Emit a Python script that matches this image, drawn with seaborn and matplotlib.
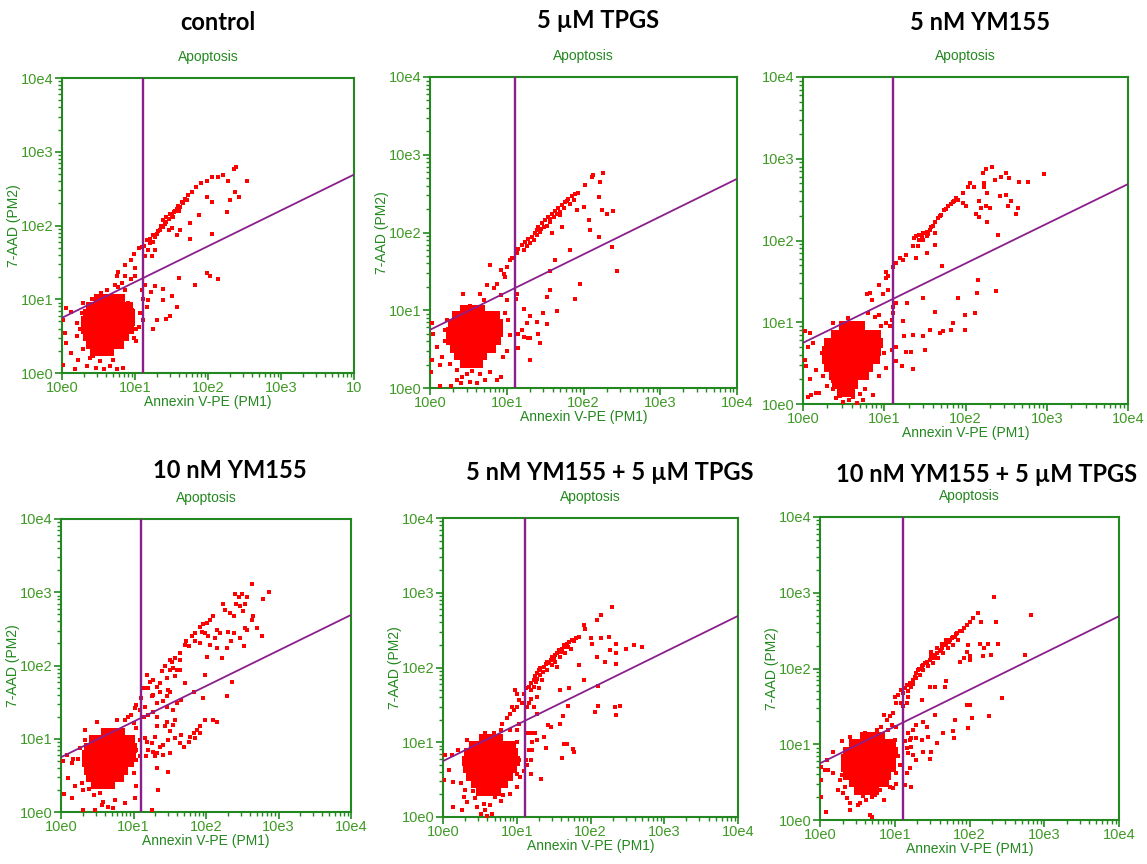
import numpy as np
import pandas as pd
import matplotlib
matplotlib.use('Agg')
from matplotlib import pyplot as plt
from matplotlib.ticker import LogLocator, NullFormatter
import seaborn as sns

# ---- data (log10 units) ----
titles = ['control', '5 \u00b5M TPGS', '5 nM YM155',
          '10 nM YM155', '5 nM YM155 + 5 \u00b5M TPGS', '10 nM YM155 + 5 \u00b5M TPGS']
decade_ticks = [1, 10, 100, 1000, 10000]
decade_labels = ['10e0', '10e1', '10e2', '10e3', '10e4']
decade_labels_control = ['10e0', '10e1', '10e2', '10e3', '10']   # last label is cut off in the source
gate_x = 12.8                      # vertical gate (Annexin)
quad_line_x = [1, 10000]           # diagonal gate end points
quad_line_y = [5.6, 490]

# dense population: {log y: [log x, ...]}
control_core = {1.00: [0.50, 0.60, 0.70, 0.80],
                0.90: [0.40, 0.50, 0.60, 0.70, 0.80, 0.90],
                0.80: [0.35, 0.45, 0.55, 0.65, 0.75, 0.85, 0.93],
                0.70: [0.33, 0.43, 0.53, 0.63, 0.73, 0.83, 0.93],
                0.60: [0.33, 0.43, 0.53, 0.63, 0.73, 0.83, 0.92],
                0.50: [0.35, 0.45, 0.55, 0.65, 0.75, 0.85],
                0.40: [0.40, 0.50, 0.60, 0.70, 0.78],
                0.30: [0.45, 0.55, 0.65]}
tpgs_core = {1.00: [0.45, 0.55, 0.65],
             0.92: [0.35, 0.45, 0.55, 0.65, 0.75, 0.85],
             0.82: [0.30, 0.40, 0.50, 0.60, 0.70, 0.80, 0.88],
             0.72: [0.28, 0.38, 0.48, 0.58, 0.68, 0.78, 0.88],
             0.62: [0.28, 0.38, 0.48, 0.58, 0.68, 0.78, 0.86],
             0.52: [0.32, 0.42, 0.52, 0.62, 0.72, 0.80],
             0.42: [0.38, 0.48, 0.58, 0.68],
             0.32: [0.45, 0.55, 0.62]}
ym5_core = {0.95: [0.50, 0.60, 0.70],
            0.85: [0.40, 0.50, 0.60, 0.70, 0.80, 0.90],
            0.75: [0.32, 0.42, 0.52, 0.62, 0.72, 0.82, 0.92],
            0.65: [0.30, 0.40, 0.50, 0.60, 0.70, 0.80, 0.90],
            0.55: [0.30, 0.40, 0.50, 0.60, 0.70, 0.80, 0.88],
            0.45: [0.32, 0.42, 0.52, 0.62, 0.72, 0.80],
            0.35: [0.38, 0.48, 0.58, 0.68, 0.75],
            0.25: [0.42, 0.52, 0.62],
            0.15: [0.48, 0.58]}
ym10_core = {1.08: [0.62, 0.72, 0.82],
             0.98: [0.45, 0.55, 0.65, 0.75, 0.85, 0.95],
             0.88: [0.38, 0.48, 0.58, 0.68, 0.78, 0.88, 0.98],
             0.78: [0.36, 0.46, 0.56, 0.66, 0.76, 0.86, 0.96],
             0.68: [0.36, 0.46, 0.56, 0.66, 0.76, 0.86, 0.94],
             0.58: [0.38, 0.48, 0.58, 0.68, 0.78, 0.86],
             0.48: [0.42, 0.52, 0.62, 0.72, 0.80],
             0.38: [0.48, 0.58, 0.68]}
ym5_tpgs_core = {1.05: [0.55, 0.65, 0.75],
                 0.95: [0.42, 0.52, 0.62, 0.72, 0.82, 0.92],
                 0.85: [0.35, 0.45, 0.55, 0.65, 0.75, 0.85, 0.95],
                 0.75: [0.32, 0.42, 0.52, 0.62, 0.72, 0.82, 0.92, 0.98],
                 0.65: [0.34, 0.44, 0.54, 0.64, 0.74, 0.84, 0.94],
                 0.55: [0.38, 0.48, 0.58, 0.68, 0.78, 0.88],
                 0.45: [0.45, 0.55, 0.65, 0.75, 0.82],
                 0.35: [0.52, 0.62, 0.72]}
ym10_tpgs_core = {1.10: [0.60, 0.70, 0.80],
                  1.00: [0.45, 0.55, 0.65, 0.75, 0.85, 0.95],
                  0.90: [0.38, 0.48, 0.58, 0.68, 0.78, 0.88, 0.98],
                  0.80: [0.35, 0.45, 0.55, 0.65, 0.75, 0.85, 0.95],
                  0.70: [0.35, 0.45, 0.55, 0.65, 0.75, 0.85, 0.95],
                  0.60: [0.38, 0.48, 0.58, 0.68, 0.78, 0.88],
                  0.50: [0.45, 0.55, 0.65, 0.75, 0.85],
                  0.40: [0.52, 0.62, 0.72]}

# single events: (log x, log y)
control_events = [
    (1.05, 1.69), (1.09, 1.71), (0.95, 1.53), (0.86, 1.46), (0.75, 1.31), (0.77, 1.37), (0.86, 1.31), (0.73, 1.19),
    (1.16, 1.80), (1.21, 1.82), (1.25, 1.87), (1.30, 1.89), (1.34, 1.94), (1.39, 1.98), (1.43, 2.05), (1.46, 2.09),
    (1.50, 2.14), (1.53, 2.18), (1.57, 2.23), (1.59, 2.27), (1.64, 2.32), (1.68, 2.36), (1.73, 2.41), (1.78, 2.45),
    (1.84, 2.52), (1.91, 2.57), (1.98, 2.61), (2.05, 2.66), (2.14, 2.66), (2.21, 2.68), (2.28, 2.61), (2.35, 2.77),
    (2.39, 2.79), (2.53, 2.61), (2.37, 2.45), (2.30, 2.34), (2.42, 2.39), (2.26, 2.18), (2.05, 2.32), (1.98, 2.39),
    (2.05, 1.88), (1.87, 2.14), (1.75, 2.03), (1.75, 1.82), (1.62, 1.94), (1.57, 1.87), (1.50, 1.96), (1.46, 1.94),
    (1.25, 1.78), (1.18, 1.67), (1.27, 1.67), (1.23, 1.58), (1.14, 1.58), (0.98, 1.62),
    (1.39, 2.07), (1.43, 2.11), (1.48, 2.16), (1.55, 2.20), (1.62, 2.25), (1.66, 2.30), (1.71, 2.34), (1.36, 2.00),
    (1.41, 2.02), (1.52, 2.12), (1.60, 2.20), (1.32, 1.92), (1.28, 1.85), (1.20, 1.76), (1.12, 1.72),
    (1.98, 1.35), (2.03, 1.31), (2.14, 1.27), (1.82, 1.19), (1.60, 1.29),
    (1.27, 1.18), (1.39, 1.14), (1.51, 1.05), (1.39, 0.99), (1.58, 0.90), (1.48, 0.77), (1.42, 0.73), (1.30, 0.72),
    (1.25, 0.59), (1.16, 0.90), (1.18, 0.99), (1.22, 1.10), (1.14, 1.19), (1.09, 1.13), (1.11, 1.01), (1.07, 0.81),
    (1.05, 0.63), (1.02, 0.43), (1.11, 0.72),
    (0.95, 1.28), (1.00, 1.31), (0.82, 1.22), (0.77, 1.17), (0.86, 1.13), (0.61, 1.13), (0.54, 1.08), (1.00, 1.42),
    (0.02, 0.72), (0.06, 0.88), (0.13, 0.83), (0.04, 0.54), (0.06, 0.41), (0.13, 0.27), (0.02, 0.11), (0.20, 0.50),
    (0.22, 0.18), (0.34, 0.09), (0.18, 0.05), (0.47, 0.07), (0.57, 0.05), (0.66, 0.09), (0.75, 0.05), (0.84, 0.07),
    (0.52, 0.16), (0.43, 0.23), (0.29, 0.32), (0.27, 0.81), (0.29, 0.95), (0.41, 1.01), (0.20, 0.68), (1.02, 0.59),
    (0.98, 0.47), (0.25, 0.60), (0.96, 0.85), (0.90, 0.95), (0.38, 0.20), (0.70, 0.18)]

tpgs_events = [
    (0.96, 1.47), (1.00, 1.56), (1.07, 1.67), (1.13, 1.73), (1.15, 1.79), (1.20, 1.84), (1.24, 1.88), (1.28, 1.91),
    (1.33, 1.94), (1.37, 1.99), (1.39, 2.03), (1.41, 2.07), (1.46, 2.12), (1.50, 2.16), (1.54, 2.20), (1.59, 2.24),
    (1.63, 2.28), (1.67, 2.31), (1.72, 2.35), (1.76, 2.39), (1.80, 2.43), (1.85, 2.47), (1.89, 2.50), (1.93, 2.51),
    (2.02, 2.61), (2.11, 2.72), (2.22, 2.65), (2.26, 2.77), (2.13, 2.74), (1.35, 1.90), (1.39, 1.97), (1.43, 2.01),
    (1.48, 2.07), (1.52, 2.09), (1.30, 1.86), (1.26, 1.82), (1.22, 1.77), (1.57, 2.14), (1.65, 2.24), (1.74, 2.31),
    (1.83, 2.37), (1.87, 2.42), (1.61, 2.20), (1.70, 2.22), (1.44, 2.04), (1.56, 2.17), (1.69, 2.27), (1.78, 2.41),
    (1.91, 2.29), (2.00, 2.33), (2.07, 2.16), (2.09, 2.03), (2.20, 2.46), (2.24, 2.29), (2.30, 2.24), (2.39, 2.28),
    (2.20, 1.94), (2.37, 1.81), (2.43, 1.51), (1.83, 1.77), (1.72, 2.07), (1.59, 1.99), (1.63, 1.64), (1.57, 1.51),
    (1.95, 1.34), (1.89, 1.14), (1.57, 1.26), (1.52, 1.17), (1.47, 0.96), (1.66, 0.99), (1.52, 0.82), (1.39, 0.85),
    (1.30, 0.92), (1.23, 1.01), (1.26, 0.84), (1.20, 0.74), (1.15, 0.70), (1.22, 0.66), (1.28, 0.64), (1.41, 0.70),
    (1.43, 0.58), (1.30, 0.64), (1.15, 0.51), (1.30, 0.36), (1.13, 1.21), (1.12, 1.15),
    (0.78, 1.58), (0.93, 1.52), (0.98, 1.43), (0.87, 1.34), (0.74, 1.32), (0.83, 1.28), (0.93, 1.19), (1.00, 1.13),
    (1.04, 1.64), (0.43, 1.21), (0.65, 1.21), (0.52, 1.06), (0.70, 1.13),
    (0.02, 0.83), (0.04, 0.70), (0.09, 0.53), (0.02, 0.36), (0.01, 0.21), (0.13, 0.03), (0.15, 0.40), (0.20, 0.61),
    (0.22, 0.87), (0.20, 0.74), (0.28, 0.03), (0.35, 0.10), (0.41, 0.06), (0.52, 0.08), (0.61, 0.06), (0.72, 0.10),
    (0.87, 0.10), (0.93, 0.14), (0.35, 0.23), (0.26, 0.31), (0.48, 0.18), (0.65, 0.18), (1.00, 0.48), (1.04, 0.68),
    (1.02, 0.87), (0.98, 0.96), (0.13, 0.29), (0.55, 0.22), (0.42, 0.14), (0.78, 0.20), (0.95, 0.40)]

ym5_events = [
    (1.02, 1.62), (1.05, 1.56), (1.11, 1.68), (1.15, 1.72), (1.19, 1.78), (1.23, 1.76), (1.27, 1.82), (1.35, 1.93),
    (1.37, 2.03), (1.39, 2.05), (1.43, 2.07), (1.48, 2.09), (1.52, 2.11), (1.56, 2.13), (1.58, 2.17), (1.62, 2.23),
    (1.66, 2.27), (1.70, 2.31), (1.74, 2.37), (1.78, 2.42), (1.82, 2.45), (1.86, 2.48), (1.91, 2.50), (1.97, 2.58),
    (2.03, 2.66), (2.05, 2.70), (2.11, 2.66), (2.21, 2.82), (2.25, 2.88), (2.32, 2.90), (2.36, 2.74), (2.44, 2.78),
    (2.50, 2.82), (2.54, 2.76), (2.66, 2.72), (2.77, 2.72), (2.96, 2.81), (2.23, 2.70), (2.23, 2.66), (2.27, 2.58),
    (2.17, 2.48), (2.19, 2.40), (2.17, 2.29), (2.13, 2.33), (2.25, 2.42), (2.30, 2.40), (2.27, 2.23), (2.43, 2.54),
    (2.50, 2.56), (2.56, 2.48), (2.52, 2.42), (2.64, 2.40), (2.62, 2.33), (2.40, 2.07), (2.01, 2.42), (1.97, 2.46),
    (1.62, 2.09), (1.52, 2.05), (1.43, 2.01), (1.48, 2.01), (1.41, 1.93), (1.62, 1.95), (1.53, 1.85), (1.39, 1.78),
    (1.71, 1.69), (1.60, 2.18), (1.68, 2.30), (1.76, 2.39), (1.84, 2.47), (1.88, 2.52), (1.54, 2.08), (1.46, 2.05),
    (2.15, 1.52), (2.14, 1.36), (2.38, 1.38), (2.12, 1.11), (1.99, 1.09), (1.91, 1.30), (1.99, 0.91), (1.84, 0.99),
    (1.82, 0.91), (1.72, 0.89), (1.68, 0.87), (1.62, 1.13), (1.56, 0.91), (1.48, 0.83), (1.50, 0.66), (1.48, 1.30),
    (1.35, 0.85), (1.33, 0.64), (1.27, 0.64), (1.35, 0.43), (1.22, 0.46), (1.24, 0.83), (1.28, 1.23), (1.15, 0.70),
    (1.14, 0.52), (1.23, 1.01), (1.15, 1.23), (1.11, 1.19), (1.11, 1.11), (1.09, 1.03), (1.07, 0.95), (1.09, 0.66),
    (1.02, 1.54), (0.93, 1.46), (0.82, 1.36), (0.79, 1.34), (0.85, 1.27), (0.98, 1.34), (1.05, 1.40), (0.80, 1.11),
    (0.88, 1.07), (0.94, 1.09), (0.55, 1.05), (0.37, 0.99), (1.02, 0.99), (0.96, 0.95),
    (0.02, 0.54), (0.04, 0.46), (0.06, 0.70), (0.12, 0.75), (0.08, 0.87), (0.03, 0.89), (0.16, 0.42), (0.08, 0.30),
    (0.06, 0.09), (0.10, 0.11), (0.16, 0.13), (0.20, 0.13), (0.23, 0.62), (0.25, 0.34), (0.29, 0.22), (0.37, 0.18),
    (0.41, 0.07), (0.49, 0.03), (0.57, 0.05), (0.66, 0.01), (0.74, 0.05), (0.86, 0.11), (0.76, 0.18), (1.02, 0.44),
    (0.94, 0.34), (1.00, 0.62), (0.37, 0.28), (0.45, 0.10), (0.62, 0.08), (0.70, 0.12), (0.27, 0.52)]

ym10_events = [
    (2.64, 3.11), (2.87, 3.01), (2.78, 2.91), (2.40, 2.98), (2.45, 2.93), (2.49, 2.97), (2.56, 2.94), (2.42, 2.84),
    (2.47, 2.81), (2.54, 2.84), (2.24, 2.84), (2.26, 2.76), (2.33, 2.72), (2.38, 2.67), (2.51, 2.74), (2.65, 2.67),
    (2.63, 2.62), (2.10, 2.67), (2.06, 2.62), (2.01, 2.58), (1.96, 2.56), (1.92, 2.53), (1.94, 2.46), (1.85, 2.44),
    (1.80, 2.40), (1.73, 2.33), (1.71, 2.28), (1.77, 2.26), (1.85, 2.33), (2.03, 2.40), (2.15, 2.49), (2.19, 2.44),
    (2.31, 2.46), (2.38, 2.44), (2.47, 2.37), (2.54, 2.51), (2.56, 2.49), (2.70, 2.51), (2.77, 2.40), (2.52, 2.27),
    (2.35, 2.33), (2.22, 2.10), (2.29, 2.24), (2.15, 2.24), (2.06, 2.28), (2.01, 2.12), (1.99, 1.87), (1.92, 2.31),
    (1.99, 2.44), (2.12, 2.37), (2.36, 1.77), (2.29, 1.58), (1.96, 1.55), (1.83, 1.64),
    (2.10, 1.26), (2.15, 1.23), (1.99, 1.26), (1.92, 1.17), (1.87, 1.12), (1.83, 1.08), (1.78, 1.03), (1.92, 1.08),
    (1.85, 1.01), (1.76, 0.96), (1.69, 0.89), (1.66, 1.05), (1.64, 0.94), (1.57, 1.01), (1.55, 1.19), (1.57, 1.26),
    (1.46, 1.23), (1.43, 1.17), (1.50, 1.10), (1.48, 0.98), (1.41, 0.92), (1.50, 0.80), (1.41, 0.78), (1.37, 0.89),
    (1.32, 0.80), (1.27, 0.82), (1.32, 0.60), (1.30, 0.76), (1.25, 0.94), (1.30, 1.03), (1.18, 0.96), (1.20, 0.85),
    (1.17, 0.76), (1.47, 0.54), (1.34, 0.30), (1.25, 0.03), (1.16, 1.01), (1.32, 1.17),
    (1.18, 1.87), (1.23, 1.78), (1.27, 1.80), (1.20, 1.69), (1.27, 1.60), (1.32, 1.71), (1.37, 1.76), (1.39, 1.92),
    (1.46, 1.83), (1.48, 1.67), (1.50, 1.94), (1.53, 2.05), (1.55, 1.96), (1.57, 1.85), (1.60, 1.94), (1.64, 2.08),
    (1.64, 1.94), (1.71, 1.76), (1.66, 1.53), (1.60, 1.49), (1.55, 1.39), (1.46, 1.44), (1.41, 1.51), (1.46, 1.58),
    (1.50, 1.64), (1.37, 1.64), (1.32, 1.49), (1.25, 1.58), (1.14, 1.69), (1.11, 1.55), (1.16, 1.44), (1.20, 1.33),
    (1.27, 1.37), (1.32, 1.30), (1.14, 1.30), (1.64, 2.17), (1.57, 2.10), (1.50, 2.08), (1.43, 1.99),
    (1.04, 1.46), (1.02, 1.42), (0.97, 1.33), (0.93, 1.30), (1.09, 1.39), (0.88, 1.26), (1.00, 1.21), (1.04, 1.14),
    (0.77, 1.26), (0.49, 1.23), (0.33, 1.12), (0.33, 0.98), (0.26, 0.87), (0.23, 0.73), (0.17, 0.73), (0.15, 0.67),
    (0.08, 0.78), (0.03, 0.69), (0.10, 0.46), (0.04, 0.25), (0.15, 0.19), (0.19, 0.35), (0.29, 0.39), (0.31, 0.30),
    (0.31, 0.03), (0.47, 0.03), (0.56, 0.10), (0.58, 0.14), (0.65, 0.07), (0.74, 0.16), (0.72, 0.05), (0.88, 0.12),
    (1.02, 0.19), (1.04, 0.35), (0.54, 0.26), (0.45, 0.23), (0.38, 0.32), (1.00, 0.53), (1.04, 0.71), (1.04, 0.85),
    (1.09, 0.98), (1.09, 0.76)]

ym5_tpgs_events = [
    (0.87, 1.32), (0.91, 1.38), (0.96, 1.43), (1.00, 1.47), (0.94, 1.47), (1.03, 1.56), (1.00, 1.65), (0.98, 1.70),
    (1.07, 1.52), (1.10, 1.65), (1.12, 1.72), (1.16, 1.74), (1.19, 1.79), (1.23, 1.83), (1.25, 1.88), (1.28, 1.92),
    (1.30, 1.96), (1.32, 1.99), (1.37, 2.01), (1.39, 2.05), (1.41, 2.08), (1.46, 2.10), (1.48, 2.14), (1.52, 2.17),
    (1.55, 2.19), (1.57, 2.23), (1.62, 2.25), (1.64, 2.30), (1.68, 2.32), (1.71, 2.34), (1.75, 2.37), (1.80, 2.39),
    (1.84, 2.41), (1.32, 1.90), (1.28, 1.85), (1.34, 1.83), (1.41, 1.96), (1.48, 2.03), (1.52, 2.08), (1.59, 2.14),
    (1.66, 2.19), (1.73, 2.25), (1.55, 2.01), (1.23, 1.74), (1.19, 1.70), (1.30, 1.72), (1.28, 1.61), (1.19, 1.58),
    (1.16, 1.52), (1.23, 1.47), (1.28, 1.38), (1.14, 1.47), (1.36, 1.94), (1.44, 2.06), (1.50, 2.12), (1.60, 2.21),
    (1.70, 2.28), (1.78, 2.35), (1.66, 2.27), (1.26, 1.80),
    (2.29, 2.81), (2.14, 2.70), (2.09, 2.63), (1.91, 2.57), (1.93, 2.52), (2.00, 2.39), (2.02, 2.32), (2.14, 2.39),
    (2.25, 2.41), (2.27, 2.23), (2.34, 2.32), (2.34, 2.19), (2.48, 2.25), (2.59, 2.30), (2.70, 2.27), (2.20, 2.08),
    (2.09, 2.14), (2.35, 2.05), (1.84, 2.03), (1.91, 1.83), (2.10, 1.75), (1.71, 1.73), (1.59, 1.70), (1.69, 1.49),
    (2.10, 1.49), (2.06, 1.40), (2.33, 1.47), (2.34, 1.36), (2.40, 1.49), (1.63, 1.35), (1.58, 1.24), (1.46, 1.21),
    (1.43, 1.23), (1.37, 1.07), (1.39, 0.92), (1.28, 1.03), (1.19, 1.12), (1.21, 1.00), (1.16, 0.89), (1.19, 0.76),
    (1.14, 0.69), (1.19, 0.58), (1.33, 0.51), (1.21, 0.89), (1.68, 0.98), (1.64, 0.97), (1.76, 0.91), (1.77, 0.87),
    (1.62, 0.79), (1.25, 1.12), (1.14, 1.12), (1.12, 0.76), (1.10, 0.62), (1.05, 0.54),
    (1.03, 1.25), (1.00, 1.16), (0.91, 1.16), (0.80, 1.25), (0.78, 1.16), (0.69, 1.12), (0.57, 1.12), (0.33, 1.03),
    (0.21, 0.89), (0.12, 0.83), (0.03, 0.83), (0.08, 0.63), (0.02, 0.49), (0.14, 0.47), (0.24, 0.45), (0.30, 0.36),
    (0.28, 0.27), (0.14, 0.13), (0.26, 0.09), (0.33, 0.20), (0.44, 0.25), (0.46, 0.13), (0.51, 0.04), (0.57, 0.09),
    (0.60, 0.02), (0.67, 0.04), (0.55, 0.18), (0.64, 0.16), (0.78, 0.22), (0.82, 0.29), (0.91, 0.31), (1.00, 0.40),
    (1.00, 0.58), (1.03, 0.76), (0.40, 0.35), (0.70, 0.27), (0.98, 0.88), (1.01, 1.00)]

ym10_tpgs_events = [
    (0.94, 1.37), (0.98, 1.41), (1.02, 1.54), (1.00, 1.63), (1.05, 1.65), (1.09, 1.72), (1.14, 1.74), (1.16, 1.78),
    (1.20, 1.81), (1.25, 1.85), (1.27, 1.89), (1.29, 1.94), (1.31, 1.98), (1.36, 2.03), (1.38, 2.05), (1.43, 2.09),
    (1.47, 2.11), (1.49, 2.16), (1.54, 2.18), (1.56, 2.20), (1.60, 2.25), (1.63, 2.27), (1.67, 2.31), (1.69, 2.33),
    (1.74, 2.38), (1.76, 2.40), (1.80, 2.42), (1.83, 2.47), (1.87, 2.49), (1.92, 2.53), (1.96, 2.58), (2.00, 2.62),
    (2.05, 2.67), (2.11, 2.73), (1.38, 1.98), (1.45, 2.03), (1.51, 2.07), (1.58, 2.14), (1.65, 2.20), (1.71, 2.27),
    (1.78, 2.31), (1.85, 2.38), (1.49, 2.22), (1.56, 2.27), (1.63, 2.33), (1.69, 2.38), (1.78, 2.42), (1.29, 1.87),
    (1.34, 1.92), (1.22, 1.76), (1.18, 1.70), (1.11, 1.67), (1.18, 1.63), (1.16, 1.54), (1.09, 1.54), (1.11, 1.50),
    (1.41, 2.07), (1.52, 2.14), (1.62, 2.23), (1.72, 2.35), (1.82, 2.45), (1.90, 2.50), (1.33, 2.00), (1.24, 1.80),
    (2.33, 2.95), (2.82, 2.70), (2.36, 2.61), (2.16, 2.61), (2.14, 2.33), (2.25, 2.33), (2.38, 2.33), (2.20, 2.27),
    (2.29, 2.18), (2.18, 2.16), (1.98, 2.31), (1.96, 2.22), (2.00, 2.16), (1.92, 2.14), (1.87, 2.09), (2.74, 2.18),
    (2.00, 2.11), (1.69, 1.83), (1.67, 1.76), (1.47, 1.76), (1.36, 1.59), (1.54, 1.76), (2.44, 1.61), (1.96, 1.52),
    (2.00, 1.52), (2.26, 1.37), (2.04, 1.34), (1.81, 1.32), (1.98, 1.21), (1.78, 1.17), (1.79, 1.08), (1.64, 1.15),
    (1.54, 1.39), (1.43, 1.23), (1.38, 1.30), (1.29, 1.26), (1.25, 1.19), (1.22, 1.08), (1.29, 1.08), (1.36, 1.06),
    (1.45, 1.10), (1.56, 1.01), (1.49, 0.90), (1.47, 0.81), (1.38, 0.90), (1.29, 0.79), (1.25, 0.86), (1.20, 0.68),
    (1.18, 0.88), (1.16, 0.62), (1.14, 0.46), (1.22, 0.44), (1.14, 1.04), (1.16, 0.95), (1.20, 1.06), (1.18, 1.15),
    (1.22, 0.97),
    (0.85, 1.39), (0.89, 1.32), (0.96, 1.26), (1.02, 1.23), (0.91, 1.19), (0.82, 1.23), (0.76, 1.19), (0.60, 1.15),
    (0.40, 1.10), (0.29, 1.04), (0.18, 0.90), (0.09, 0.79), (0.02, 0.70), (0.07, 0.66), (0.11, 0.66), (0.18, 0.62),
    (0.02, 0.53), (0.27, 0.53), (0.33, 0.44), (0.24, 0.40), (0.31, 0.35), (0.36, 0.29), (0.40, 0.22), (0.51, 0.20),
    (0.53, 0.22), (0.62, 0.26), (0.69, 0.31), (0.73, 0.33), (0.85, 0.26), (0.80, 0.40), (0.94, 0.44), (0.98, 0.42),
    (1.02, 0.48), (1.02, 0.62), (1.07, 0.73), (1.05, 0.84), (0.40, 0.13), (0.67, 0.07), (0.70, 0.04), (0.08, 0.11),
    (0.02, 0.31), (0.30, 0.60), (1.00, 1.05), (0.58, 0.32)]

panel_cores = [control_core, tpgs_core, ym5_core, ym10_core, ym5_tpgs_core, ym10_tpgs_core]
panel_events = [control_events, tpgs_events, ym5_events, ym10_events, ym5_tpgs_events, ym10_tpgs_events]

# ---- layout (pixel boxes of each dot plot: left, top, right, bottom) ----
W, H = 1147, 864
boxes = [(62, 78, 354, 373), (430, 77, 737, 388), (803, 77, 1128, 404),
         (61, 519, 351, 812), (443, 518, 738, 817), (820, 517, 1119, 820)]
title_pos = [(218, 22), (598, 21), (980, 23), (230, 470), (610, 472), (987, 475)]

GREEN = '#23881f'
TICK_GREEN = '#3f9a25'
PURPLE = '#8a1f8c'
RED = '#ff0000'

sns.set_style('white')
plt.rcParams['font.family'] = ['Liberation Sans', 'DejaVu Sans']


def to_frame(pairs):
    df = pd.DataFrame(pairs, columns=['lx', 'ly'])
    return pd.DataFrame({'x': 10 ** df['lx'], 'y': 10 ** df['ly']})


def core_frame(rows):
    pairs = [(lx, ly) for ly, xs in rows.items() for lx in xs]
    return to_frame(pairs)


fig = plt.figure(figsize=(W / 100, H / 100), dpi=100)

for i in range(6):
    l, t, r, b = boxes[i]
    ax = fig.add_axes([l / W, 1 - b / H, (r - l) / W, (b - t) / H])
    ax.set_xscale('log')
    ax.set_yscale('log')

    sns.scatterplot(data=core_frame(panel_cores[i]), x='x', y='y', ax=ax,
                    color=RED, marker='s', s=62, linewidth=0, zorder=2)
    sns.scatterplot(data=to_frame(panel_events[i]), x='x', y='y', ax=ax,
                    color=RED, marker='s', s=7, linewidth=0, zorder=3)

    ax.axvline(gate_x, color=PURPLE, lw=1.7, zorder=4)
    ax.plot(quad_line_x, quad_line_y, color=PURPLE, lw=1.3, zorder=4)

    ax.set_xlim(1, 10000)
    ax.set_ylim(1, 10000)
    ax.set_xticks(decade_ticks)
    ax.set_yticks(decade_ticks)
    ax.set_xticklabels(decade_labels_control if i == 0 else decade_labels)
    ax.set_yticklabels(decade_labels)
    ax.xaxis.set_minor_locator(LogLocator(base=10, subs=range(2, 10)))
    ax.yaxis.set_minor_locator(LogLocator(base=10, subs=range(2, 10)))
    ax.xaxis.set_minor_formatter(NullFormatter())
    ax.yaxis.set_minor_formatter(NullFormatter())
    ax.tick_params(which='major', direction='out', length=5, width=1.2, color=GREEN,
                   labelcolor=TICK_GREEN, labelsize=10.5, pad=1, bottom=True, left=True)
    ax.tick_params(which='minor', direction='out', length=3, width=1, color=GREEN,
                   bottom=True, left=True)
    for side in ['top', 'right', 'bottom', 'left']:
        ax.spines[side].set_color(GREEN)
        ax.spines[side].set_linewidth(1.5)

    ax.set_xlabel('Annexin V-PE (PM1)', color=GREEN, fontsize=10, labelpad=0)
    if i == 2:
        ax.set_ylabel('')      # cut off in the source
    else:
        ax.set_ylabel('7-AAD (PM2)', color=GREEN, fontsize=10, labelpad=0)
    ax.grid(False)

    fig.text((l + r) / 2 / W, 1 - (t - 21) / H, 'Apoptosis', color=GREEN,
             fontsize=10, ha='center', va='center')
    cx, cy = title_pos[i]
    fig.text(cx / W, 1 - cy / H, titles[i], fontfamily=['Lato', 'DejaVu Sans'],
             fontweight='bold', fontsize=17, ha='center', va='center', color='black')

fig.savefig('out.png', dpi=100)
